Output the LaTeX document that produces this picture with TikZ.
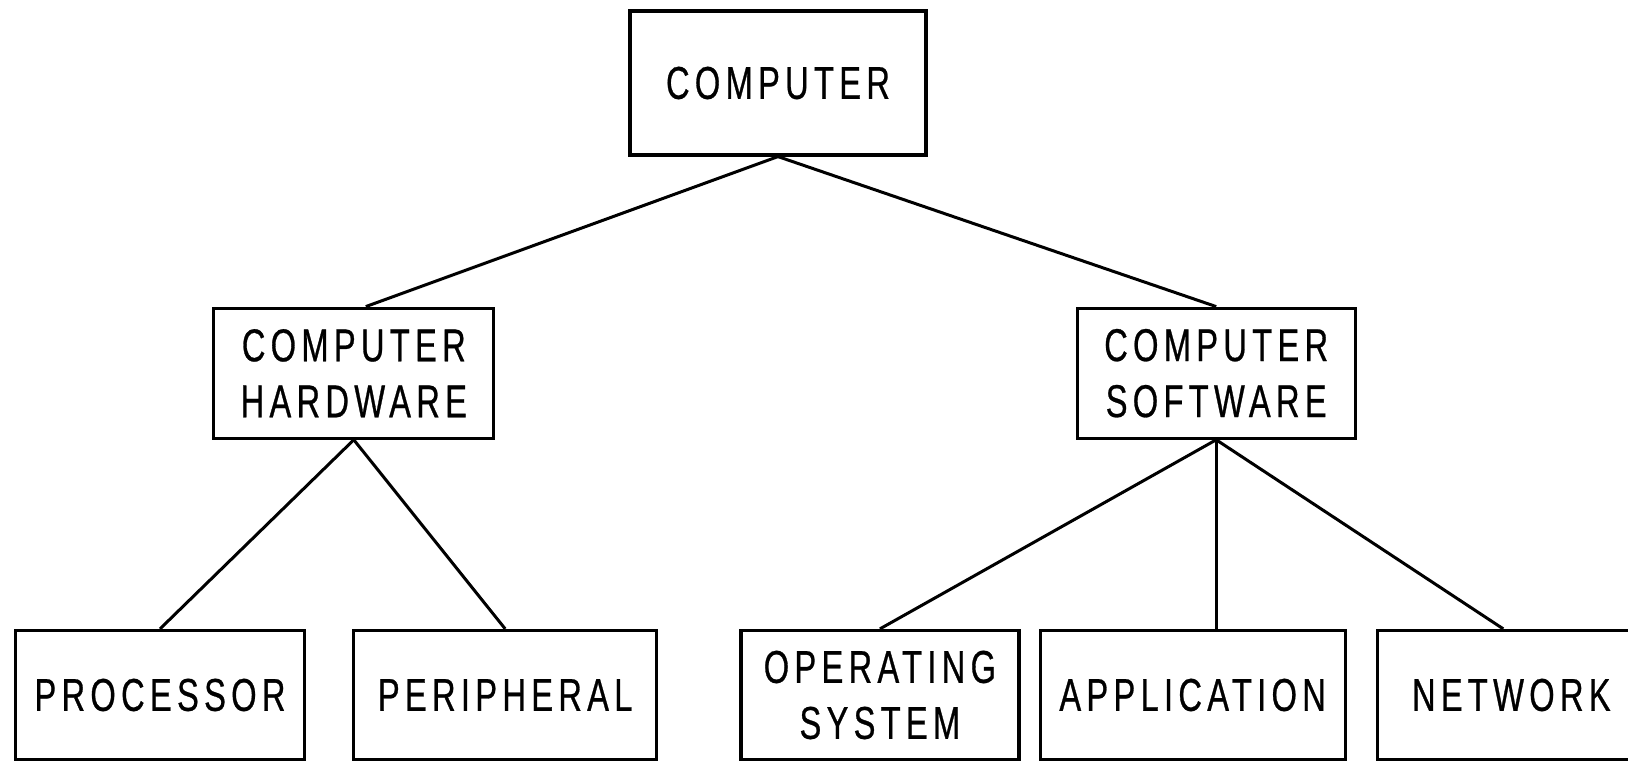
\documentclass[tikz,border=0pt]{standalone}
\usepackage{fontspec}
\setmainfont{Liberation Sans}[FakeStretch=0.71, LetterSpace=11.5, FakeBold=0.6]
\usetikzlibrary{positioning}

\begin{document}
\begin{tikzpicture}[
node distance = 75pt and 66.5pt,
box/.style={rectangle, draw=black, line width=1.6pt, align=center, inner sep=2pt,
  font=\fontsize{23}{28}\selectfont},
link/.style={draw=black, line width=1.5pt}]

\useasboundingbox (0pt,0pt) rectangle (814pt,-382pt);

\node[box, minimum width=148pt, minimum height=72pt] (computer) at (389pt,-41.5pt) {COMPUTER};
\node[box, minimum width=140pt, minimum height=65pt] (hardware) [below left = 75pt and 66.5pt of computer] {COMPUTER\\HARDWARE};
\node[box, minimum width=139pt, minimum height=65pt] (software) [below right = 75pt and 74pt of computer] {COMPUTER\\SOFTWARE};

\node[box, minimum width=144.5pt, minimum height=64.5pt] (processor) at (80pt,-347.5pt) {PROCESSOR};
\node[box, minimum width=151.5pt, minimum height=64.5pt] (peripheral) [right = 23pt of processor] {PERIPHERAL};
\node[box, minimum width=139pt, minimum height=64.5pt] (opsys) [right = 40.5pt of peripheral] {OPERATING\\SYSTEM};
\node[box, minimum width=152.5pt, minimum height=64.5pt] (application) [right = 9pt of opsys] {APPLICATION};
\node[box, minimum width=134pt, minimum height=64.5pt] (network) [right = 14.5pt of application] {NETWORK};

\draw[link] (computer.south) -- ([xshift=6pt]hardware.north);
\draw[link] (computer.south) -- (software.north);
\draw[link] (hardware.south) -- (processor.north);
\draw[link] (hardware.south) -- (peripheral.north);
\draw[link] (software.south) -- (opsys.north);
\draw[link] (software.south) -- (software.south |- application.north);
\draw[link] (software.south) -- ([xshift=-4pt]network.north);
\end{tikzpicture}
\end{document}
